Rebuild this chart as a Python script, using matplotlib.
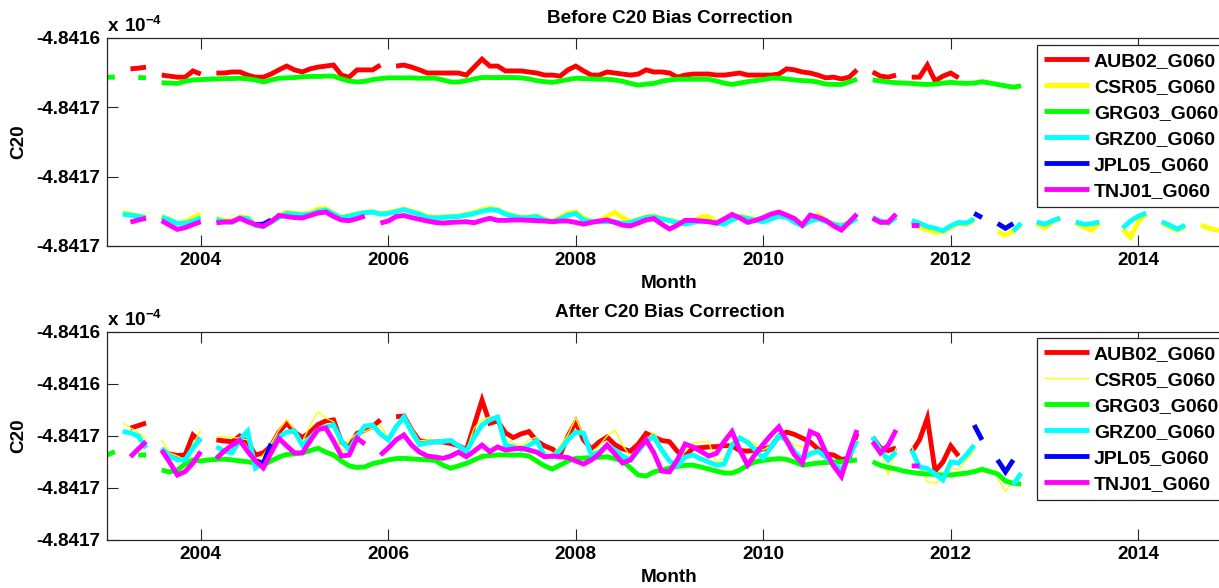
import numpy as np
import matplotlib
matplotlib.use("Agg")
import matplotlib.pyplot as plt

# ---------------- data ----------------
N_MONTHS = 144          # monthly samples starting Jan 2003
START_YEAR = 2003
BASE = -4.8416          # C20 in units of 1e-4
UNIT = 1e-6             # anomaly unit (in the 1e-4 scale), positive = more negative

NAMES = ["AUB02_G060", "CSR05_G060", "GRG03_G060", "GRZ00_G060", "JPL05_G060", "TNJ01_G060"]
COLORS = ["#ff0000", "#ffff00", "#00ff00", "#00ffff", "#0000ff", "#ff00ff"]

# segments: (first month index, values)
AUB_BEFORE = [
    (3, [48.9, 48.7, 48.4]),
    (7, [50.7, 51.0, 51.3, 51.3, 49.5, 50.4]),
    (14, [50.1, 50.1, 49.8, 49.8, 50.7, 51.3, 51.3, 50.4, 49.2, 48.1,
          49.2, 49.8, 48.9, 48.4, 48.1, 47.8, 50.7, 51.3, 49.2, 49.2,
          49.2, 47.8]),
    (37, [48.1, 47.8, 48.4, 49.2, 50.1, 50.1, 50.1, 50.1, 50.1, 50.7,
          48.4, 46.1, 48.1, 48.1, 49.5, 49.5, 49.5, 49.8, 50.1, 50.7,
          50.7, 51.0, 49.2, 48.1, 49.5, 50.7, 50.7, 49.8, 50.1, 50.4,
          50.7, 50.4, 49.2, 49.8, 49.8, 50.1, 51.3, 50.7, 50.4, 50.4,
          50.4, 50.7, 50.7, 50.4, 50.1, 50.7, 50.7, 50.7, 50.7, 50.4,
          48.9, 49.2, 49.8, 50.1, 50.7, 51.5, 51.3, 51.8, 51.3, 49.2]),
    (98, [49.8, 51.0, 51.3, 50.7]),
    (103, [51.3, 51.3, 47.8, 52.4, 51.0, 50.1, 51.5]),
]
CSR_BEFORE = [
    (2, [90.3, 90.8, 91.3, 91.7]),
    (7, [91.4, 92.3, 93.4, 93.0, 91.8, 90.9]),
    (14, [92.0, 92.6, 92.8, 91.6, 91.8, 93.9, 94.2, 92.8, 91.2, 90.2,
          90.5, 90.8, 90.4, 89.3, 89.2, 90.6, 91.7, 91.2, 90.7, 90.3,
          90.1, 90.6, 90.4, 89.8, 89.3, 90.0, 90.6, 91.5, 91.7, 91.6,
          91.4, 91.3, 90.9, 90.3, 89.5, 89.1, 89.5, 90.6, 91.2, 91.7,
          91.6, 91.3, 92.3, 92.8, 91.8, 90.5, 90.1, 92.0, 92.8, 92.8,
          91.5, 90.3, 91.8, 93.0, 92.3, 91.5, 91.3, 92.0, 92.5, 93.0,
          93.5, 93.0, 91.6, 91.5, 93.2, 93.5, 92.3, 91.3, 91.8, 92.3,
          92.8, 92.0, 90.4, 91.5, 92.9, 93.5, 92.5, 91.0, 92.7, 93.5,
          94.0, 93.2, 91.9]),
    (98, [91.7, 92.9, 93.6, 91.5]),
    (103, [93.0, 94.5, 95.4, 96.0, 96.0, 94.5, 93.5, 93.7, 92.5]),
    (114, [96.0, 96.8, 95.7, 93.7]),
    (119, [93.5, 94.8, 93.0, 92.0]),
    (124, [93.5, 94.5, 95.4, 93.5]),
    (130, [95.2, 97.5, 93.0, 90.8]),
    (135, [93.3, 94.5, 95.4, 94.3]),
    (140, [94.0, 94.8, 95.4, 95.4]),
]
GRG_BEFORE = [
    (0, [51.3, 51.3]),
    (4, [51.4, 51.5]),
    (7, [52.9, 53.0, 53.1, 52.5, 52.1, 52.0, 51.9, 51.8, 51.7, 51.7,
         51.6, 51.8, 52.1, 52.7, 52.1, 51.6, 51.5, 51.4, 51.2, 51.1,
         51.1, 51.0, 51.0, 51.8, 52.4, 52.7, 52.5, 52.0, 51.7, 51.5,
         51.5, 51.5, 51.5, 51.6, 51.6, 51.6, 52.1, 52.7, 52.7, 52.3,
         51.8, 51.4, 51.4, 51.4, 51.4, 51.4, 51.5, 51.8, 52.3, 52.6,
         52.8, 52.4, 52.0, 51.6, 51.7, 51.8, 51.9, 51.9, 52.1, 52.5,
         53.1, 53.6, 53.3, 53.1, 52.5, 52.1, 51.9, 51.9, 51.9, 51.9,
         51.9, 52.4, 53.0, 53.4, 53.0, 52.6, 52.3, 52.0, 51.6, 51.6,
         51.8, 52.1, 52.3, 52.4, 52.7, 53.3, 53.4, 53.4, 52.7, 51.9]),
    (98, [52.1, 52.4, 52.7, 52.9, 53.0, 53.1, 53.3, 53.4, 53.3, 53.0,
          52.8, 53.0, 53.1, 53.0, 52.6, 53.0, 53.4, 53.8, 54.2, 53.8]),
]
GRZ_BEFORE = [
    (2, [90.8, 91.1, 91.4, 91.9]),
    (7, [91.7, 92.5, 93.5, 93.4, 92.8, 91.9]),
    (14, [92.3, 93.0, 93.2, 91.9, 92.1, 94.1, 94.4, 93.1, 91.8, 90.6,
          90.8, 91.0, 90.8, 90.0, 89.6, 90.8, 91.9, 91.4, 90.8, 90.4,
          90.2, 90.8, 90.6, 90.1, 89.5, 90.2, 90.8, 91.8, 91.9, 91.8,
          91.6, 91.5, 91.1, 90.6, 90.0, 89.5, 89.7, 90.8, 91.4, 91.9,
          91.8, 91.5, 92.5, 93.0, 92.2, 91.1, 90.6, 92.5, 93.0, 93.0,
          93.0, 93.0, 93.5, 93.2, 92.5, 91.8, 91.6, 92.2, 92.7, 93.2,
          93.7, 93.2, 92.8, 92.9, 93.4, 93.7, 92.5, 91.6, 92.1, 92.6,
          93.0, 92.2, 91.4, 91.7, 93.2, 94.2, 92.8, 92.2, 92.9, 93.7,
          94.2, 93.4, 92.1]),
    (98, [91.8, 92.8, 93.4, 91.7]),
    (103, [92.7, 93.4, 94.4, 94.9, 95.6, 94.2, 93.2, 93.4, 92.2]),
    (116, [95.7, 93.4]),
    (119, [93.1, 93.7, 92.8, 91.9]),
    (124, [93.1, 93.7, 93.6, 93.1]),
    (130, [94.8, 92.8, 91.4, 90.5]),
    (135, [93.0, 94.0, 95.1, 94.0]),
]
JPL_BEFORE = [
    (19, [93.8, 93.7, 92.5]),
    (111, [90.6, 91.8]),
    (114, [93.5, 94.9, 93.5]),
]
TNJ_BEFORE = [
    (3, [93.1, 92.5, 92.0]),
    (7, [92.7, 94.0, 95.2, 94.7, 93.8, 93.0]),
    (14, [93.3, 93.1, 93.0, 92.0, 93.0, 93.8, 94.3, 93.0, 91.2, 91.5,
          91.8, 91.9, 91.2, 90.5, 90.2, 91.5, 92.5, 92.7, 92.1, 91.4]),
    (35, [93.4, 92.8, 91.5, 91.2, 91.8, 92.3, 92.8, 93.2, 93.4, 93.2,
          93.1, 93.0, 93.3, 92.6, 92.0, 92.6, 92.6, 92.5, 92.5, 92.6,
          92.7, 92.8, 93.0, 92.8, 92.8, 93.2, 93.7, 93.2, 92.8, 92.5,
          93.2, 94.0, 94.2, 93.4, 92.5, 92.1, 93.7, 95.1, 94.0, 92.6,
          92.6, 92.8, 93.0, 93.4, 92.2, 90.9, 91.9, 93.2, 92.6, 91.8,
          90.8, 90.2, 91.1, 92.1, 94.0, 91.1, 91.7, 92.6, 94.2, 95.4,
          93.1, 90.8]),
    (98, [92.0, 93.2, 93.1, 90.8]),
    (103, [94.1, 94.1]),
]

AUB_AFTER = [
    (3, [57.0, 56.0, 55.0]),
    (7, [66.0, 66.9, 67.5, 67.3, 59.6, 62.3]),
    (14, [61.5, 61.9, 62.2, 60.0, 62.3, 67.3, 66.5, 63.8, 58.5, 55.0,
          58.5, 60.6, 58.5, 55.6, 54.2, 53.8, 62.3, 64.2, 59.0, 57.7,
          56.3, 53.8]),
    (37, [52.6, 52.3, 57.7, 61.9, 62.2, 62.2, 62.3, 62.9, 63.7, 65.4,
          55.8, 46.2, 55.1, 54.2, 58.8, 60.6, 59.2, 58.3, 61.9, 63.8,
          65.0, 67.3, 60.0, 54.6, 61.5, 65.0, 62.3, 60.4, 63.3, 65.0,
          65.8, 63.1, 59.0, 60.4, 61.7, 62.2, 65.9, 67.7, 64.7, 64.5,
          64.2, 64.1, 63.7, 63.8, 65.6, 65.8, 65.4, 65.0, 64.2, 60.0,
          58.5, 59.4, 60.8, 62.3, 65.0, 66.9, 67.3, 69.0, 68.6, 59.0]),
    (98, [60.4, 64.6, 65.6, 64.6]),
    (103, [66.2, 61.5, 53.1, 73.5, 70.0, 63.8, 67.7]),
]
CSR_AFTER = [
    (2, [55.0, 56.9, 58.5, 61.5]),
    (7, [61.5, 66.5, 67.7, 69.2, 63.5, 57.7]),
    (14, [60.3, 60.4, 60.6, 60.8, 61.5, 69.9, 67.3, 63.0, 57.7, 53.7,
          57.7, 62.2, 55.8, 50.7, 53.1, 54.5, 66.7, 61.5, 59.0, 58.3,
          56.9, 55.8, 60.8, 55.4, 51.9, 56.9, 61.9, 61.5, 61.5, 61.9,
          61.5, 63.1, 65.4, 56.9, 53.8, 52.7, 53.1, 61.5, 62.7, 63.8,
          61.5, 60.4, 66.5, 67.3, 63.8, 59.6, 53.1, 60.0, 66.2, 63.8,
          60.0, 57.7, 63.5, 68.1, 66.2, 61.5, 58.6, 64.2, 69.2, 71.5,
          65.4, 62.7, 62.3, 62.3, 69.9, 68.5, 62.3, 60.0, 61.5, 63.1,
          65.4, 63.5, 60.8, 60.8, 63.5, 64.1, 66.2, 65.4, 67.7, 70.0,
          73.1, 67.3, 61.5]),
    (98, [60.8, 65.4, 75.2, 64.6]),
    (103, [64.1, 71.2, 77.6, 78.2, 76.2, 72.3, 73.1, 69.2, 65.4]),
    (114, [76.2, 81.4, 77.3, 74.1]),
    (119, [63.5, 68.5, 70.0, 67.3]),
    (124, [69.2, 71.2, 72.3, 70.0]),
    (130, [73.1, 85.0, 72.3, 67.3]),
    (135, [70.0, 73.1, 75.0, 72.3]),
    (140, [73.1, 74.6, 76.2, 76.2]),
]
GRG_AFTER = [
    (0, [67.3, 66.0]),
    (4, [67.3, 67.3]),
    (7, [73.1, 73.8, 73.1, 70.8, 69.2, 69.6, 69.2, 69.0, 68.9, 69.2,
         69.6, 69.9, 70.4, 71.2, 69.6, 68.1, 67.1, 66.9, 66.5, 65.6,
         64.7, 66.2, 67.3, 69.6, 71.5, 72.1, 71.9, 70.6, 70.0, 69.2,
         68.7, 68.6, 68.8, 69.0, 69.2, 69.4, 71.2, 72.4, 71.5, 70.5,
         69.2, 67.9, 67.5, 67.3, 67.3, 67.3, 67.3, 67.7, 69.6, 71.5,
         72.7, 71.2, 69.6, 68.6, 68.5, 68.3, 68.2, 68.0, 68.7, 69.6,
         72.3, 75.0, 75.4, 73.8, 73.1, 72.3, 71.7, 71.3, 71.2, 71.9,
         72.7, 73.5, 74.2, 74.3, 73.1, 71.2, 69.9, 69.4, 69.0, 68.7,
         69.0, 70.0, 71.2, 70.8, 70.4, 70.2, 70.0, 69.9, 69.6, 69.2]),
    (98, [69.9, 71.3, 72.1, 72.7, 73.5, 74.0, 74.4, 74.6, 74.8, 75.0,
          75.0, 74.6, 74.3, 73.7, 72.8, 73.7, 74.6, 77.3, 78.2, 78.5]),
]
GRZ_AFTER = [
    (2, [58.3, 58.8, 60.0, 64.7]),
    (7, [64.7, 67.7, 69.2, 69.2, 64.6, 60.8]),
    (14, [64.1, 65.9, 66.5, 61.5, 58.1, 72.3, 70.4, 65.8, 60.4, 58.5,
          58.1, 63.5, 60.8, 57.5, 56.5, 55.8, 61.9, 65.4, 60.2, 56.2,
          55.8, 59.2, 61.5, 56.5, 52.7, 58.5, 63.3, 62.7, 62.3, 62.1,
          61.7, 63.8, 65.9, 60.4, 55.8, 53.8, 52.7, 63.5, 64.2, 65.2,
          63.7, 61.7, 67.7, 68.1, 65.4, 61.5, 58.5, 59.0, 67.3, 66.2,
          63.5, 65.4, 67.7, 69.2, 65.8, 61.9, 60.4, 65.4, 69.6, 71.5,
          68.1, 67.3, 68.8, 70.0, 71.2, 70.8, 63.5, 60.8, 62.5, 65.4,
          68.5, 64.2, 60.0, 61.5, 66.2, 69.0, 66.9, 65.8, 68.1, 70.8,
          73.1, 67.7, 61.9]),
    (98, [60.3, 65.4, 69.2, 66.0]),
    (103, [65.4, 71.9, 72.5, 74.6, 76.9, 70.0, 70.4, 67.3, 63.5]),
    (116, [78.8, 74.3]),
]
JPL_AFTER = [
    (19, [69.5, 70.5, 63.0]),
    (111, [55.8, 61.5]),
    (114, [69.2, 73.8, 69.2]),
]
TNJ_AFTER = [
    (3, [68.0, 65.0, 62.2]),
    (7, [65.4, 70.0, 75.0, 73.7, 70.4, 66.0]),
    (14, [68.6, 65.8, 63.5, 61.7, 65.9, 69.6, 72.3, 66.5, 60.9, 63.8,
          66.5, 66.5, 61.9, 57.5, 56.9, 61.9, 67.7, 67.3, 60.8, 63.1]),
    (35, [67.3, 64.6, 61.5, 59.6, 63.5, 66.2, 67.7, 68.1, 68.6, 67.7,
          66.2, 68.0, 65.8, 63.5, 66.0, 64.2, 65.4, 65.0, 64.7, 65.4,
          66.2, 68.0, 67.7, 68.0, 68.3, 69.6, 70.8, 69.2, 66.9, 63.5,
          66.9, 70.4, 69.2, 65.0, 61.5, 66.5, 73.5, 73.8, 69.2, 63.1,
          64.2, 65.9, 67.7, 66.7, 62.1, 58.3, 65.4, 71.2, 66.9, 63.1,
          59.6, 56.5, 61.9, 67.3, 70.4, 58.3, 59.6, 66.2, 71.5, 75.6,
          66.2, 57.7]),
    (98, [62.2, 66.5, 63.5, 57.7]),
    (103, [71.5, 71.5]),
]

BEFORE = [AUB_BEFORE, CSR_BEFORE, GRG_BEFORE, GRZ_BEFORE, JPL_BEFORE, TNJ_BEFORE]
AFTER = [AUB_AFTER, CSR_AFTER, GRG_AFTER, GRZ_AFTER, JPL_AFTER, TNJ_AFTER]

YEAR_TICKS = [2004, 2006, 2008, 2010, 2012, 2014]
TOP_YTICKS = [-4.84170, -4.84168, -4.84166, -4.84164]
TOP_YLABELS = ["-4.8417", "-4.8417", "-4.8417", "-4.8416"]
BOT_YTICKS = [-4.84170, -4.84168, -4.84166, -4.84164, -4.84162]
BOT_YLABELS = ["-4.8417", "-4.8417", "-4.8417", "-4.8416", "-4.8416"]


def build(segs):
    arr = np.full(N_MONTHS, np.nan)
    for start, vals in segs:
        arr[start:start + len(vals)] = vals
    return BASE - arr * UNIT


t = START_YEAR + np.arange(N_MONTHS) / 12.0

# ---------------- figure ----------------
plt.rcParams["font.family"] = ["Liberation Sans", "DejaVu Sans"]
plt.rcParams["font.weight"] = "bold"
plt.rcParams["mathtext.fontset"] = "custom"
plt.rcParams["mathtext.bf"] = "Liberation Sans:bold"
plt.rcParams["mathtext.rm"] = "Liberation Sans:bold"

W, H = 1219, 588
fig = plt.figure(figsize=(W / 100, H / 100), dpi=100)
fig.patch.set_facecolor("white")

FS = 13.6
AX_LEFT, AX_RIGHT = 107, 1232


def make_axes(top_px, bottom_px):
    return fig.add_axes([AX_LEFT / W, 1 - bottom_px / H,
                         (AX_RIGHT - AX_LEFT) / W, (bottom_px - top_px) / H])


panels = [
    (make_axes(38, 246), BEFORE, "Before C20 Bias Correction",
     (-4.84170, -4.84164), TOP_YTICKS, TOP_YLABELS, 45, False),
    (make_axes(332, 540), AFTER, "After C20 Bias Correction",
     (-4.84170, -4.84162), BOT_YTICKS, BOT_YLABELS, 338, True),
]

for ax, data, title, ylim, yt, yl, leg_top, thin_csr in panels:
    for k, (segs, name, col) in enumerate(zip(data, NAMES, COLORS)):
        lw = 1.0 if (thin_csr and k == 1) else 3.5
        ax.plot(t, build(segs), color=col, lw=lw, label=name,
                solid_capstyle="butt", solid_joinstyle="miter")
    ax.set_xlim(2003, 2015)
    ax.set_ylim(*ylim)
    ax.set_xticks(YEAR_TICKS)
    ax.set_xticklabels([str(y) for y in YEAR_TICKS])
    ax.set_yticks(yt)
    ax.set_yticklabels(yl)
    ax.tick_params(direction="in", length=8, width=0.8, top=True, right=True,
                   labelsize=FS, color="#262626")
    ax.tick_params(axis="x", pad=4.5)
    ax.tick_params(axis="y", pad=5)
    for s in ax.spines.values():
        s.set_linewidth(0.9)
        s.set_color("#262626")
    ax.set_title(title, fontsize=FS, fontweight="bold", pad=10.5)
    ax.set_xlabel("Month", fontsize=FS, fontweight="bold", labelpad=4.5)
    ax.set_ylabel("C20", fontsize=FS, fontweight="bold", labelpad=6)
    ax.text(0.0, 1.012, r"$\mathbf{x\ 10^{-4}}$", transform=ax.transAxes,
            fontsize=FS, ha="left", va="bottom")
    leg = ax.legend(loc="upper left", bbox_to_anchor=(1037 / W, 1 - leg_top / H),
                    bbox_transform=fig.transFigure, borderaxespad=0,
                    fontsize=14, frameon=True, fancybox=False, framealpha=1,
                    edgecolor="#262626", handlelength=2.3, handletextpad=0.25,
                    labelspacing=0.43, borderpad=0.38)
    leg.get_frame().set_linewidth(0.9)
    for txt in leg.get_texts():
        txt.set_fontweight("bold")

fig.savefig("out.png", dpi=100, facecolor="white")
